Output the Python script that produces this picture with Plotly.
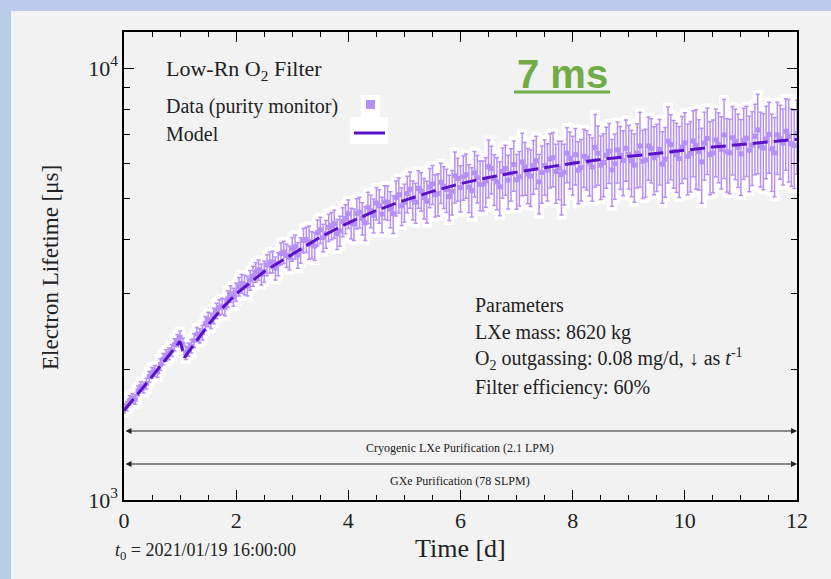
import plotly.graph_objects as go

# ---------------- data ----------------
TIME_D = [0.00, 0.05, 0.10, 0.15, 0.20, 0.25, 0.30, 0.35, 0.40, 0.45,
          0.50, 0.55, 0.60, 0.65, 0.70, 0.75, 0.80, 0.85, 0.90, 0.95,
          1.00, 1.05, 1.10, 1.15, 1.20, 1.25, 1.30, 1.35, 1.40, 1.45,
          1.50, 1.55, 1.60, 1.65, 1.70, 1.75, 1.80, 1.85, 1.90, 1.95,
          2.00, 2.05, 2.10, 2.15, 2.20, 2.25, 2.30, 2.35, 2.40, 2.45,
          2.50, 2.55, 2.60, 2.65, 2.70, 2.75, 2.80, 2.85, 2.90, 2.95,
          3.00, 3.05, 3.10, 3.15, 3.20, 3.25, 3.30, 3.35, 3.40, 3.45,
          3.50, 3.55, 3.60, 3.65, 3.70, 3.75, 3.80, 3.85, 3.90, 3.95,
          4.00, 4.05, 4.10, 4.15, 4.20, 4.25, 4.30, 4.35, 4.40, 4.45,
          4.50, 4.55, 4.60, 4.65, 4.70, 4.75, 4.80, 4.85, 4.90, 4.95,
          5.00, 5.05, 5.10, 5.15, 5.20, 5.25, 5.30, 5.35, 5.40, 5.45,
          5.50, 5.55, 5.60, 5.65, 5.70, 5.75, 5.80, 5.85, 5.90, 5.95,
          6.00, 6.05, 6.10, 6.15, 6.20, 6.25, 6.30, 6.35, 6.40, 6.45,
          6.50, 6.55, 6.60, 6.65, 6.70, 6.75, 6.80, 6.85, 6.90, 6.95,
          7.00, 7.05, 7.10, 7.15, 7.20, 7.25, 7.30, 7.35, 7.40, 7.45,
          7.50, 7.55, 7.60, 7.65, 7.70, 7.75, 7.80, 7.85, 7.90, 7.95,
          8.00, 8.05, 8.10, 8.15, 8.20, 8.25, 8.30, 8.35, 8.40, 8.45,
          8.50, 8.55, 8.60, 8.65, 8.70, 8.75, 8.80, 8.85, 8.90, 8.95,
          9.00, 9.05, 9.10, 9.15, 9.20, 9.25, 9.30, 9.35, 9.40, 9.45,
          9.50, 9.55, 9.60, 9.65, 9.70, 9.75, 9.80, 9.85, 9.90, 9.95,
          10.00, 10.05, 10.10, 10.15, 10.20, 10.25, 10.30, 10.35, 10.40, 10.45,
          10.50, 10.55, 10.60, 10.65, 10.70, 10.75, 10.80, 10.85, 10.90, 10.95,
          11.00, 11.05, 11.10, 11.15, 11.20, 11.25, 11.30, 11.35, 11.40, 11.45,
          11.50, 11.55, 11.60, 11.65, 11.70, 11.75, 11.80, 11.85, 11.90, 11.95,
          12.00]

LIFETIME_US = [1630, 1650, 1700, 1720, 1710, 1790, 1830, 1820, 1860, 1930,
               1970, 1990, 1980, 2060, 2120, 2160, 2180, 2220, 2290, 2340,
               2380, 2290, 2190, 2230, 2270, 2340, 2420, 2400, 2440, 2560,
               2620, 2600, 2670, 2740, 2790, 2810, 2790, 2920, 3000, 2950,
               3030, 3120, 3170, 3150, 3130, 3230, 3300, 3370, 3410, 3330,
               3380, 3500, 3550, 3560, 3440, 3520, 3720, 3750, 3680, 3640,
               3810, 3860, 3690, 3790, 3990, 4010, 3960, 3900, 3870, 4160,
               4220, 4050, 4130, 4280, 4320, 4360, 4130, 4200, 4410, 4480,
               4600, 4380, 4350, 4610, 4640, 4490, 4380, 4760, 4670, 4560,
               4870, 4800, 4590, 4900, 4890, 4720, 4600, 5010, 5090, 4800,
               4890, 5120, 5240, 4960, 4890, 5260, 5190, 5010, 4920, 5300,
               5390, 5090, 5120, 5440, 5320, 5230, 5040, 5180, 5630, 5550,
               5290, 5600, 5660, 5300, 5200, 5720, 5570, 5380, 5380, 5480,
               5910, 5850, 5550, 5450, 5310, 5760, 5850, 5500, 5710, 5980,
               5510, 5600, 6060, 5900, 5680, 5620, 5950, 6100, 5450, 5730,
               5950, 5800, 6160, 6200, 5760, 5860, 5670, 5740, 6350, 6180,
               6020, 6300, 5800, 5880, 6250, 6190, 6030, 5900, 6550, 6350,
               5960, 6040, 6280, 6420, 5810, 6000, 6460, 6280, 6110, 6520,
               6310, 6100, 5960, 6350, 6600, 6080, 6120, 6600, 6520, 6200,
               6290, 6480, 5990, 6150, 6770, 6650, 6410, 6300, 6170, 6560,
               6710, 6250, 6340, 6780, 6620, 6400, 6060, 6700, 6870, 6300,
               6360, 6820, 6650, 6480, 7000, 6400, 6360, 6900, 6770, 6550,
               6330, 6800, 6880, 6450, 6630, 6950, 7190, 6600, 6530, 6850,
               7020, 6500, 6360, 7000, 6860, 6700, 7140, 6950, 6680, 6620,
               7050]

LIFETIME_ERR = [40, 41, 43, 44, 45, 46, 48, 50, 52, 54,
                56, 58, 60, 62, 64, 66, 68, 70, 73, 76,
                80, 78, 76, 79, 82, 85, 88, 91, 95, 98,
                102, 106, 110, 114, 118, 121, 125, 130, 135, 142,
                150, 154, 158, 162, 165, 170, 175, 178, 182, 186,
                190, 195, 200, 205, 210, 214, 218, 223, 228, 234,
                240, 246, 252, 257, 262, 268, 350, 280, 285, 290,
                296, 300, 305, 312, 318, 324, 330, 335, 340, 345,
                350, 358, 365, 372, 378, 385, 392, 398, 405, 412,
                420, 426, 432, 440, 446, 452, 460, 468, 475, 482,
                490, 498, 505, 512, 518, 525, 532, 540, 546, 552,
                560, 568, 575, 582, 590, 598, 604, 612, 760, 635,
                650, 658, 665, 672, 680, 690, 700, 708, 715, 722,
                900, 738, 745, 752, 760, 768, 775, 782, 790, 795,
                800, 808, 1000, 822, 830, 838, 845, 852, 860, 868,
                875, 880, 885, 892, 900, 908, 1100, 920, 925, 930,
                935, 942, 950, 955, 960, 968, 975, 982, 1250, 995,
                1000, 1005, 1010, 1018, 1025, 1032, 1040, 1045, 1050, 1055,
                1060, 1065, 1070, 1078, 1300, 1090, 1095, 1100, 1105, 1110,
                1115, 1120, 1125, 1130, 1350, 1140, 1145, 1150, 1155, 1160,
                1165, 1170, 1175, 1180, 1380, 1190, 1195, 1200, 1205, 1210,
                1215, 1220, 1225, 1230, 1450, 1240, 1245, 1250, 1255, 1260,
                1265, 1270, 1275, 1280, 1285, 1290, 1500, 1300, 1305, 1310,
                1315, 1320, 1325, 1330, 1335, 1340, 1345, 1500, 1355, 1360,
                1370]

MODEL_T = [0.0, 0.25, 0.5, 0.75, 1.0, 1.08, 1.25, 1.5, 1.75, 2.0,
           2.5, 3.0, 3.5, 4.0, 4.5, 5.0, 5.5, 6.0, 6.5, 7.0,
           7.5, 8.0, 8.5, 9.0, 9.5, 10.0, 10.5, 11.0, 11.5, 12.0]
MODEL_US = [1610, 1760, 1930, 2120, 2330, 2140, 2300, 2540, 2780, 3000,
            3380, 3700, 4060, 4380, 4680, 4940, 5180, 5400, 5580, 5740,
            5890, 6020, 6140, 6250, 6350, 6450, 6560, 6660, 6750, 6840]

X_TICKS = [0, 2, 4, 6, 8, 10, 12]
Y_TICKS = [1000, 10000]
Y_TICK_TEXT = ["10<sup>3</sup>", "10<sup>4</sup>"]
Y_MINOR = [2000, 3000, 4000, 5000, 6000, 7000, 8000, 9000]

# ---------------- styling ----------------
W, H = 831, 579
L, R, T, B = 124, 34, 32, 79
PW, PH = W - L - R, H - T - B
SERIF = "Liberation Serif, Times New Roman, serif"
DATA_C = "#B690F5"
MODEL_C = "#5A12C8"
GREEN = "#70AD47"
BLUE_BG = "#B9CCE9"


def px(x):
    return (x - L) / PW


def py(y):
    return (H - B - y) / PH


fig = go.Figure()

# white halo under the data
fig.add_trace(go.Scatter(
    x=TIME_D, y=LIFETIME_US, mode="markers",
    marker=dict(symbol="square", size=12, color="white"),
    error_y=dict(type="data", array=LIFETIME_ERR, color="white",
                 thickness=9, width=5),
    hoverinfo="skip", showlegend=False))

fig.add_trace(go.Scatter(
    x=TIME_D, y=LIFETIME_US, mode="markers",
    marker=dict(symbol="square", size=5, color=DATA_C),
    error_y=dict(type="data", array=LIFETIME_ERR, color=DATA_C,
                 thickness=1.5, width=2),
    name="Data (purity monitor)", showlegend=False))

fig.add_trace(go.Scatter(
    x=MODEL_T, y=MODEL_US, mode="lines",
    line=dict(color=MODEL_C, width=3, dash="15px,6px"),
    name="Model", showlegend=False))

axis_common = dict(showline=True, linecolor="black", linewidth=1.5,
                   mirror="allticks", ticks="inside", tickcolor="black",
                   showgrid=False, zeroline=False,
                   tickfont=dict(family=SERIF, size=22, color="#222"))

fig.update_xaxes(range=[0, 12], tickvals=X_TICKS, ticklen=10, tickwidth=1.3,
                 minor=dict(dtick=0.5, tick0=0, ticks="inside", ticklen=5,
                            tickcolor="black", tickwidth=1),
                 **axis_common)
fig.update_yaxes(type="log", range=[3, 4 + 36 / 432], tickvals=Y_TICKS,
                 ticktext=Y_TICK_TEXT, ticklen=10, tickwidth=1.3,
                 minor=dict(tickvals=Y_MINOR, ticks="inside", ticklen=6,
                            tickcolor="black", tickwidth=1),
                 **axis_common)

shapes = [
    # grey slide panel over blue border
    dict(type="rect", xref="paper", yref="paper", layer="below",
         x0=px(11), x1=px(W + 20), y0=py(H + 20), y1=py(11),
         fillcolor="#F2F2F2", line=dict(width=0)),
    # white patches behind legend symbols
    dict(type="rect", xref="paper", yref="paper",
         x0=px(361), x1=px(380), y0=py(117), y1=py(95),
         fillcolor="white", line=dict(width=0)),
    dict(type="rect", xref="paper", yref="paper",
         x0=px(350), x1=px(388), y0=py(144), y1=py(117),
         fillcolor="white", line=dict(width=0)),
    dict(type="rect", xref="paper", yref="paper",
         x0=px(366), x1=px(375), y0=py(109), y1=py(100),
         fillcolor=DATA_C, line=dict(width=0)),
    dict(type="line", xref="paper", yref="paper",
         x0=px(354), x1=px(385), y0=py(133), y1=py(133),
         line=dict(color=MODEL_C, width=3)),
    # underline of "7 ms"
    dict(type="line", xref="paper", yref="paper",
         x0=px(514), x1=px(610), y0=py(92), y1=py(92),
         line=dict(color=GREEN, width=3)),
]

ann = []


def text(x, y, s, size, xanchor="left", color="#222", family=SERIF, angle=0):
    ann.append(dict(x=px(x), y=py(y), xref="paper", yref="paper", text=s,
                    showarrow=False, xanchor=xanchor, yanchor="middle",
                    textangle=angle,
                    font=dict(family=family, size=size, color=color)))


text(164, 70, "Low-Rn O<sub>2</sub> Filter", 22)
text(164, 106, "Data (purity monitor)", 20)
text(164, 134, "Model", 20)
text(562, 74, "<b>7 ms</b>", 40, xanchor="center", color=GREEN,
     family="Liberation Sans, Arial, sans-serif")
text(473, 305, "Parameters", 20)
text(473, 332, "LXe mass: 8620 kg", 20)
text(473, 359, "O<sub>2</sub> outgassing: 0.08 mg/d, ↓ as <i>t</i><sup>-1</sup>", 20)
text(473, 387, "Filter efficiency: 60%", 20)
text(460, 448, "Cryogenic LXe Purification (2.1 LPM)", 12, xanchor="center")
text(460, 481, "GXe Purification (78 SLPM)", 12, xanchor="center")
text(460, 548, "Time [d]", 26, xanchor="center")
text(113, 551, "<i>t</i><sub>0</sub> = 2021/01/19 16:00:00", 18)
text(50, 268, "Electron Lifetime [μs]", 23, xanchor="center", angle=-90)

# double-headed arrows spanning the full time range
for yy in (431, 464):
    lv = 3 + (H - B - yy) / 432
    ann.append(dict(x=12, y=lv, ax=0, ay=lv, xref="x", yref="y",
                    axref="x", ayref="y", text="", showarrow=True,
                    arrowside="end+start", arrowhead=2, arrowsize=1,
                    arrowwidth=1.2, arrowcolor="#222"))

fig.update_layout(width=W, height=H, autosize=False,
                  margin=dict(l=L, r=R, t=T, b=B),
                  paper_bgcolor=BLUE_BG, plot_bgcolor="#F2F2F2",
                  shapes=shapes, annotations=ann, showlegend=False)

fig.write_html(
    "out.html",
    config={"displayModeBar": False},
    post_script=("document.body.style.margin='0';"
                 "document.body.style.background='" + BLUE_BG + "';"))
